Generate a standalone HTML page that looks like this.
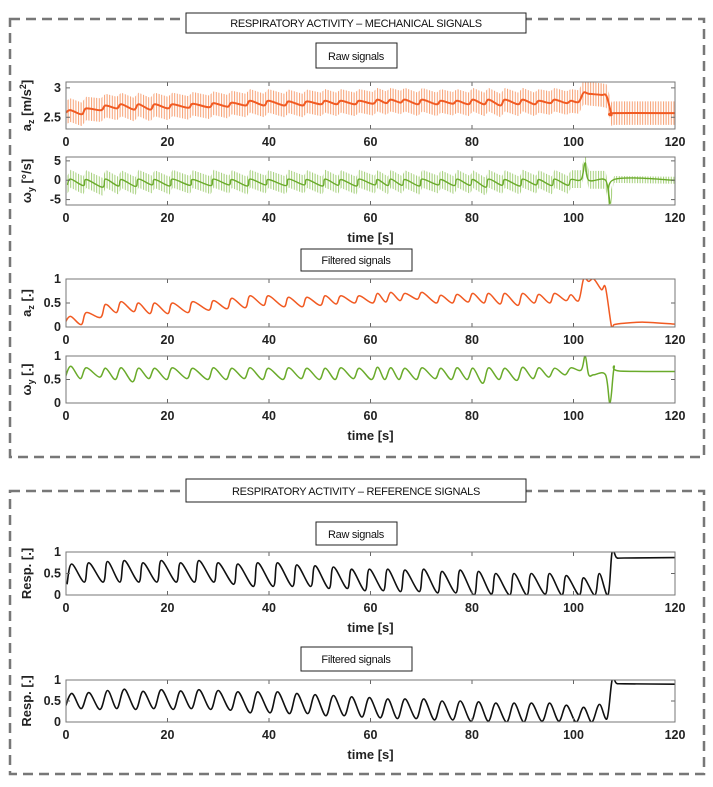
<!DOCTYPE html>
<html><head><meta charset="utf-8"><style>
body{margin:0;background:#fff}
svg{display:block}
.tk{font:bold 12.5px "Liberation Sans",sans-serif;fill:#222}
.ax{font:bold 13px "Liberation Sans",sans-serif;fill:#222}
.bx{font:11px "Liberation Sans",sans-serif;fill:#111;letter-spacing:-0.3px}
</style></head><body>
<svg id="fig" width="713" height="787" viewBox="0 0 713 787">
<defs>
<pattern id="orStripe" width="2.6" height="10" patternUnits="userSpaceOnUse"><rect x="0" y="0" width="1" height="10" fill="#f5884f"/></pattern>
<pattern id="grStripe" width="2.6" height="10" patternUnits="userSpaceOnUse"><rect x="0" y="0" width="1" height="10" fill="#8cc255"/></pattern>
</defs>
<rect x="10" y="19" width="694" height="438" fill="none" stroke="#777" stroke-width="2.5" stroke-dasharray="10 6"/>
<rect x="10" y="491" width="694" height="283" fill="none" stroke="#777" stroke-width="2.5" stroke-dasharray="10 6"/>
<g><rect x="186" y="13" width="340" height="20" fill="#fff" stroke="#222"/><text class="bx" x="356" y="27" text-anchor="middle">RESPIRATORY ACTIVITY –  MECHANICAL SIGNALS</text></g>
<g><rect x="186" y="479" width="340" height="23" fill="#fff" stroke="#222"/><text class="bx" x="356" y="495" text-anchor="middle">RESPIRATORY ACTIVITY – REFERENCE SIGNALS</text></g>
<g><rect x="316" y="43" width="81" height="25" fill="#fff" stroke="#222"/><text class="bx" x="356" y="60" text-anchor="middle">Raw signals</text></g>
<g><rect x="301" y="249" width="111" height="22" fill="#fff" stroke="#222"/><text class="bx" x="356" y="264" text-anchor="middle">Filtered signals</text></g>
<g><rect x="316" y="522" width="81" height="23" fill="#fff" stroke="#222"/><text class="bx" x="356" y="538" text-anchor="middle">Raw signals</text></g>
<g><rect x="301" y="647" width="111" height="24" fill="#fff" stroke="#222"/><text class="bx" x="356" y="663" text-anchor="middle">Filtered signals</text></g>
</svg>
<script>
// ---- data ----
const xTicks=[0,20,40,60,80,100,120];
const respTimes=[1.1,4.5,8.2,11.5,15.2,18.8,22.6,26.2,30.0,33.9,37.8,41.7,45.5,49.1,52.7,56.3,59.8,63.4,66.8,70.5,74.1,77.7,81.3,84.7,88.3,91.7,95.3,98.6,102.0,105.1];
const respRawPeaks=[0.72,0.75,0.78,0.8,0.75,0.8,0.75,0.8,0.75,0.72,0.75,0.75,0.7,0.68,0.65,0.6,0.6,0.6,0.58,0.6,0.55,0.58,0.55,0.5,0.5,0.5,0.5,0.45,0.4,0.5];
const respRawTroughs=[0.25,0.3,0.3,0.3,0.3,0.3,0.3,0.3,0.3,0.25,0.2,0.2,0.2,0.2,0.15,0.15,0.1,0.1,0.08,0.08,0.05,0.05,0.0,0.02,0.0,0.0,0.02,0.0,0.0,0.0];
const respRawTailT=[106.8,107.6,108.5,110,120];
const respRawTailV=[0.0,1.0,0.87,0.86,0.87];
const respFiltPeaks=[0.68,0.7,0.75,0.78,0.73,0.77,0.74,0.77,0.75,0.72,0.72,0.72,0.68,0.65,0.63,0.6,0.58,0.55,0.55,0.55,0.5,0.5,0.48,0.45,0.45,0.45,0.45,0.4,0.35,0.42];
const respFiltTroughs=[0.25,0.32,0.3,0.32,0.3,0.32,0.3,0.32,0.3,0.28,0.22,0.22,0.2,0.2,0.15,0.15,0.12,0.1,0.08,0.08,0.05,0.05,0.02,0.02,0.0,0.0,0.02,0.02,0.0,0.0];
const respFiltTailT=[106.6,107.6,108.5,110,120];
const respFiltTailV=[0.08,1.0,0.92,0.91,0.9];
const azTimes=[0.9,4.0,7.8,10.9,14.3,17.5,21,25,29.1,32.7,36.3,39.9,43.9,47.5,51.1,54.2,57.8,61.4,64,66.8,70.2,73.9,77.1,80.2,83.3,86.5,90,93.2,96.3,99.5];
const azFiltPeaks=[0.22,0.3,0.47,0.53,0.5,0.5,0.5,0.53,0.55,0.6,0.65,0.65,0.62,0.62,0.65,0.65,0.65,0.7,0.72,0.7,0.72,0.66,0.68,0.7,0.7,0.7,0.7,0.68,0.7,0.67];
const azFiltTroughs=[0.1,0.05,0.2,0.3,0.32,0.28,0.28,0.3,0.35,0.38,0.4,0.45,0.42,0.42,0.45,0.48,0.5,0.5,0.52,0.55,0.58,0.5,0.5,0.52,0.5,0.48,0.45,0.5,0.5,0.55];
const azFiltTailT=[101,102,103,104,105.5,106.3,107.5,108,110,114,120];
const azFiltTailV=[0.55,1.0,0.95,1.0,0.78,0.82,0.0,0.05,0.08,0.1,0.06];
const azRawPeaks=[2.62,2.65,2.7,2.72,2.72,2.72,2.72,2.73,2.74,2.75,2.78,2.78,2.77,2.77,2.78,2.78,2.78,2.8,2.8,2.8,2.8,2.78,2.78,2.8,2.8,2.8,2.8,2.78,2.8,2.78];
const azRawTroughs=[2.58,2.55,2.62,2.65,2.63,2.63,2.65,2.66,2.67,2.68,2.7,2.7,2.7,2.7,2.72,2.72,2.72,2.73,2.74,2.75,2.72,2.72,2.73,2.72,2.72,2.7,2.72,2.72,2.74,2.74];
const azRawTailT=[101,102,103,105.5,106.5,107.5,108,120];
const azRawTailV=[2.76,2.92,2.9,2.88,2.86,2.55,2.57,2.57];
const azRawSpreadUp=0.2, azRawSpreadDown=0.2;
const wyFiltBase=[0.78,0.75,0.74,0.75,0.74,0.74,0.75,0.74,0.75,0.74,0.75,0.74,0.75,0.74,0.74,0.75,0.74,0.76,0.75,0.74,0.75,0.74,0.75,0.74,0.75,0.74,0.76,0.75,0.74,0.75];
const wyFiltDips=[0.48,0.52,0.55,0.5,0.45,0.52,0.5,0.52,0.5,0.5,0.52,0.5,0.5,0.52,0.5,0.5,0.52,0.5,0.5,0.5,0.5,0.52,0.5,0.5,0.42,0.5,0.48,0.52,0.55,0.6];
const wyFiltTailT=[101.5,102.3,103,104,106.3,107.2,108,109,120];
const wyFiltTailV=[0.7,1.0,0.6,0.6,0.6,0.0,0.75,0.68,0.67];
const wyRawBase=[0.3,0.2,0.3,0.2,0.3,0.2,0.3,0.2,0.3,0.2,0.3,0.2,0.3,0.2,0.3,0.2,0.3,0.2,0.3,0.2,0.3,0.2,0.3,0.2,0.3,0.2,0.3,0.2,0.3,0.2];
const wyRawDips=[-1.2,-1.4,-1.8,-1.5,-1.6,-1.2,-1.5,-1.3,-1.4,-1.2,-1.5,-1.2,-1.4,-1.2,-1.5,-1.3,-1.5,-1.2,-1.4,-1.3,-1.5,-1.2,-1.4,-1.3,-1.8,-1.3,-1.5,-1.2,-1.4,-1.3];
const wyRawTailT=[101.5,102.3,103,106.3,107.2,108,120];
const wyRawTailV=[0.2,4.5,0.0,0.0,-6.0,0.2,0.0];
const wyRawSpread=[2.4,2.2,0.9];

// ---- helpers ----
const NS='http://www.w3.org/2000/svg';
const svg=document.getElementById('fig');
const defs=svg.querySelector('defs');
function mk(tag,attrs,parent){const e=document.createElementNS(NS,tag);for(const k in attrs)e.setAttribute(k,attrs[k]);(parent||svg).appendChild(e);return e;}
const X0=66,X1=675;
let clipN=0;
function xs(t){return X0+(t/120)*(X1-X0);}
function cycles(times,peaks,troughs,rise,tT,tV){
  const p=[];
  for(let i=0;i<times.length;i++){p.push([times[i]-rise,troughs[i]]);p.push([times[i],peaks[i]]);}
  for(let i=0;i<tT.length;i++)p.push([tT[i],tV[i]]);
  return p;
}
function pathOf(pts,ys){
  let d='M'+xs(pts[0][0]).toFixed(1)+','+ys(pts[0][1]).toFixed(1);
  for(let i=1;i<pts.length;i++){
    const p0=pts[Math.max(0,i-2)],p1=pts[i-1],p2=pts[i],p3=pts[Math.min(pts.length-1,i+1)];
    const c1=[p1[0]+(p2[0]-p0[0])/6,p1[1]+(p2[1]-p0[1])/6];
    const c2=[p2[0]-(p3[0]-p1[0])/6,p2[1]-(p3[1]-p1[1])/6];
    d+='C'+xs(c1[0]).toFixed(1)+','+ys(c1[1]).toFixed(1)+' '+xs(c2[0]).toFixed(1)+','+ys(c2[1]).toFixed(1)+' '+xs(p2[0]).toFixed(1)+','+ys(p2[1]).toFixed(1);
  }
  return d;
}
function axes(name,top,bot,ymin,ymax,yticks,ylab,timeLabel){
  const g=mk('g',{});
  
  
  const ys=v=>bot-(v-ymin)/(ymax-ymin)*(bot-top);
  const cid='clip'+(clipN++);
  const cp=mk('clipPath',{id:cid},defs);
  mk('rect',{x:X0,y:top,width:X1-X0,height:bot-top},cp);
  const data=mk('g',{'clip-path':'url(#'+cid+')'},g);
  xTicks.forEach(t=>{
    mk('line',{x1:xs(t),x2:xs(t),y1:bot,y2:bot-4,stroke:'#666'},g);
    mk('line',{x1:xs(t),x2:xs(t),y1:top,y2:top+4,stroke:'#666'},g);
    const tx=mk('text',{x:xs(t),y:bot+17,class:'tk','text-anchor':'middle'},g);
    
    
    tx.textContent=t;
  });
  yticks.forEach(v=>{
    mk('line',{x1:X0,x2:X0+4,y1:ys(v),y2:ys(v),stroke:'#666'},g);
    mk('line',{x1:X1,x2:X1-4,y1:ys(v),y2:ys(v),stroke:'#666'},g);
    const tx=mk('text',{x:X0-5,y:ys(v)+4,class:'tk','text-anchor':'end'},g);
    
    
    tx.textContent=v;
  });
  const yl=mk('text',{x:0,y:0,class:'ax','text-anchor':'middle',transform:'translate(31,'+((top+bot)/2)+') rotate(-90)'},g);
  
  
  yl.innerHTML=ylab;
  if(timeLabel){
    const tl=mk('text',{x:(X0+X1)/2,y:bot+37,class:'ax','text-anchor':'middle'},g);
    
    
    tl.textContent='time [s]';
  }
  return {g,data,ys,top,bot};
}
function frame(a){mk('rect',{x:X0,y:a.top,width:X1-X0,height:a.bot-a.top,fill:'none',stroke:'#777'},a.g);}
function line(a,pts,color,w,name){
  const p=mk('path',{d:pathOf(pts,a.ys),fill:'none',stroke:color,'stroke-width':w,'stroke-linejoin':'round'},a.data);
  
  
}
function band(a,pts,up,down,fill,name){
  const upPts=pts.map((p,i)=>[p[0],p[1]+up(i,p)]);
  const dnPts=pts.map((p,i)=>[p[0],p[1]-down(i,p)]).reverse();
  let d='M'+upPts.map(p=>xs(p[0]).toFixed(1)+','+a.ys(p[1]).toFixed(1)).join('L')+'L'+dnPts.map(p=>xs(p[0]).toFixed(1)+','+a.ys(p[1]).toFixed(1)).join('L')+'Z';
  const e=mk('path',{d:d,fill:fill,opacity:0.8},a.data);
  
  
}
const OR='#f15a22',GR='#6aab2b';

// P1 raw az
let a=axes('raw-az',82,129,2.3,3.1,[2.5,3],'a<tspan font-size="9" dy="3">z</tspan><tspan dy="-3"> [m/s</tspan><tspan font-size="9" dy="-5">2</tspan><tspan dy="5">]</tspan>',false);
let pts=cycles(azTimes,azRawPeaks,azRawTroughs,0.9,azRawTailT,azRawTailV);
band(a,pts,()=>azRawSpreadUp,()=>azRawSpreadDown,'url(#orStripe)','raw-az-noise-band');
line(a,pts,OR,2,'raw-az-line');frame(a);
// P2 raw wy
a=axes('raw-wy',157,205,-6.4,6.0,[-5,0,5],'ω<tspan font-size="9" dy="3">y</tspan><tspan dy="-3"> [°/s]</tspan>',true);
pts=cycles(azTimes,wyRawBase,wyRawDips,0.6,wyRawTailT,wyRawTailV);
band(a,pts,(i,p)=>p[0]>107.5?wyRawSpread[2]:wyRawSpread[0],(i,p)=>p[0]>107.5?wyRawSpread[2]:wyRawSpread[1],'url(#grStripe)','raw-wy-noise-band');
line(a,pts,GR,1.4,'raw-wy-line');frame(a);
// P3 filtered az
a=axes('filtered-az',279,327,0,1,[0,0.5,1],'a<tspan font-size="9" dy="3">z</tspan><tspan dy="-3"> [.]</tspan>',false);
line(a,cycles(azTimes,azFiltPeaks,azFiltTroughs,1.0,azFiltTailT,azFiltTailV),OR,1.5,'filtered-az-line');frame(a);
// P4 filtered wy
a=axes('filtered-wy',356,403,0,1,[0,0.5,1],'ω<tspan font-size="9" dy="3">y</tspan><tspan dy="-3"> [.]</tspan>',true);
line(a,cycles(azTimes,wyFiltBase,wyFiltDips,1.2,wyFiltTailT,wyFiltTailV),GR,1.5,'filtered-wy-line');frame(a);
// P5 resp raw
a=axes('raw-resp',552,595,0,1,[0,0.5,1],'Resp. [.]',true);
line(a,cycles(respTimes,respRawPeaks,respRawTroughs,0.9,respRawTailT,respRawTailV),'#111',1.6,'raw-resp-line');frame(a);
// P6 resp filtered
a=axes('filtered-resp',680,722,0,1,[0,0.5,1],'Resp. [.]',true);
line(a,cycles(respTimes,respFiltPeaks,respFiltTroughs,1.5,respFiltTailT,respFiltTailV),'#111',1.6,'filtered-resp-line');frame(a);
</script>
</body></html>
